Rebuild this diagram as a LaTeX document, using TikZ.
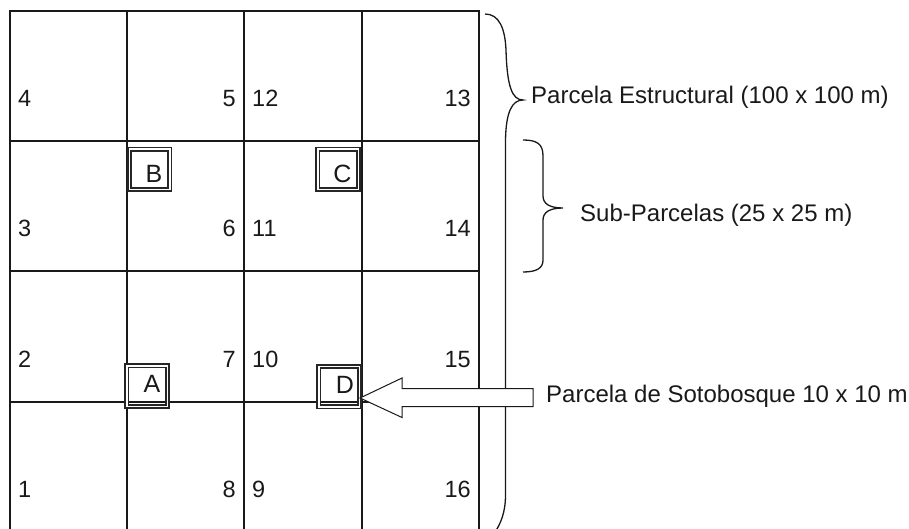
\documentclass[tikz,border=0pt]{standalone}
\usepackage{fontspec}
\setmainfont{Liberation Sans}
\begin{document}
\begin{tikzpicture}[x=1pt,y=-1pt,
  gridline/.style={line width=2pt, black!90},
  num/.style={inner sep=0pt, font=\fontsize{23.5}{27}\selectfont, text=black!90},
  lbl/.style={inner sep=0pt, font=\fontsize{24}{28}\selectfont, text=black!90},
  plotbox/.style={shape=rectangle, draw=black!85, line width=1.6pt, double=white,
    double distance=1.5pt, minimum size=40.5pt, inner sep=0pt},
  letter/.style={inner sep=0pt, font=\fontsize{25}{29}\selectfont, text=black!90},
  bracepath/.style={line width=1.3pt, black!90},
  blockarrow/.style={draw=black!90, line width=1pt, fill=white, line join=miter}]
\useasboundingbox (0,0) rectangle (909,529);
% grid
\draw[gridline] (10,11) rectangle (479,534);
\foreach \x in {127,244,362} \draw[gridline] (\x,11) -- (\x,534);
\foreach \y in {141,271,402} \draw[gridline] (10,\y) -- (479,\y);
% numbers
\node[num, anchor=base west] (n4)  at (18,107)  {4};
\node[num, anchor=base east] (n5)  at (236,107) {5};
\node[num, anchor=base west] (n12) at (252,107) {12};
\node[num, anchor=base east] (n13) at (471,107) {13};
\node[num, anchor=base west] (n3)  at (18,236.5)  {3};
\node[num, anchor=base east] (n6)  at (236,236.5) {6};
\node[num, anchor=base west] (n11) at (252,236.5) {11};
\node[num, anchor=base east] (n14) at (471,236.5) {14};
\node[num, anchor=base west] (n2)  at (18,367)  {2};
\node[num, anchor=base east] (n7)  at (236,367) {7};
\node[num, anchor=base west] (n10) at (252,367) {10};
\node[num, anchor=base east] (n15) at (471,367) {15};
\node[num, anchor=base west] (n1)  at (18,497.5)  {1};
\node[num, anchor=base east] (n8)  at (236,497.5) {8};
\node[num, anchor=base west] (n9)  at (252,497.5) {9};
\node[num, anchor=base east] (n16) at (471,497.5) {16};
% small plots
\node[plotbox] (B) at (149.5,169.5) {};
\node[plotbox] (C) at (338,169.5) {};
\node[plotbox] (A) at (147,386) {};
\node[plotbox] (D) at (339,386.5) {};
\node[letter] (lB) at ([shift={(4.5pt,-4.5pt)}]B.center) {B};
\node[letter] (lC) at ([shift={(4.5pt,-4.5pt)}]C.center) {C};
\node[letter] (lA) at ([shift={(5pt,2pt)}]A.center) {A};
\node[letter] (lD) at ([shift={(6pt,2pt)}]D.center) {D};
% braces
\draw[bracepath] (485,14) .. controls (499,14) and (505,28) .. (506,50)
  .. controls (507,86) and (512,100) .. (523,100)
  .. controls (512,100) and (506,112) .. (505.5,140)
  -- (505.5,495) .. controls (505.5,512) and (501,524) .. (493,535);
\draw[bracepath] (523,140) .. controls (537,140) and (543,144) .. (543,156)
  -- (543,196) .. controls (543,204) and (550,208) .. (563,208)
  .. controls (550,208) and (543,212) .. (543,220)
  -- (543,260) .. controls (543,268) and (537,272) .. (523,272);
% labels
\node[lbl, anchor=base west] (pe) at (531,104) {Parcela Estructural (100 x 100 m)};
\node[lbl, anchor=base west] (sp) at (580,222) {Sub-Parcelas (25 x 25 m)};
\node[lbl, anchor=base west] (ps) at (546,402) {Parcela de Sotobosque 10 x 10 m};
% block arrow
\coordinate (tip) at ([yshift=-11.5pt]D.east);
\coordinate (tail) at ([xshift=-13pt,yshift=6pt]ps.base west);
\draw[blockarrow] (tip) -- (402,378) -- (402,388.5) -- (tail |- 0,388.5)
  -- (tail |- 0,406.5) -- (402,406.5) -- (402,417.5) -- cycle;
\end{tikzpicture}
\end{document}
